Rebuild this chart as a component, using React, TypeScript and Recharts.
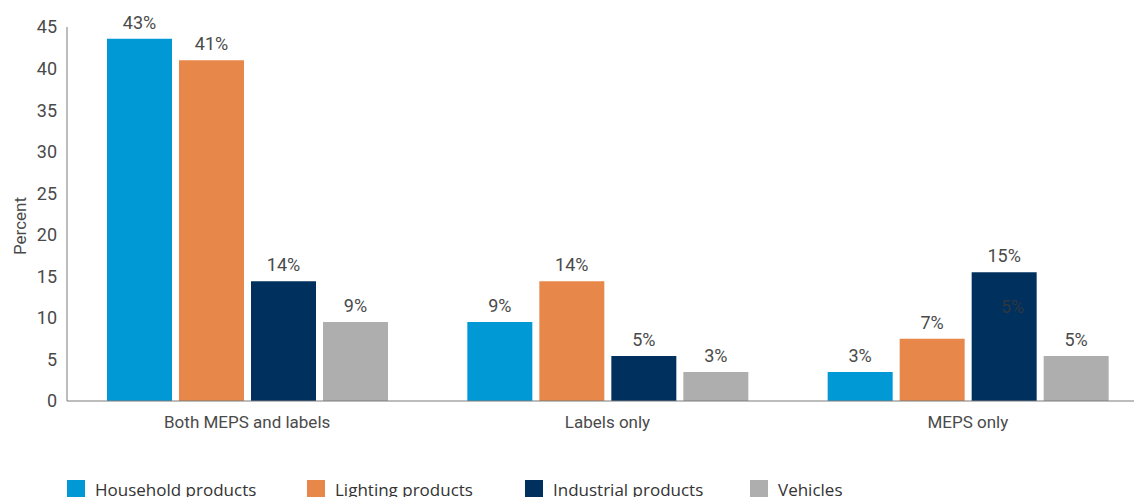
import React from 'react';
import { BarChart, Bar, XAxis, YAxis, LabelList } from 'recharts';

const categories = ['Both MEPS and labels', 'Labels only', 'MEPS only'];
const household = [43.6, 9.5, 3.5];
const lighting = [41, 14.4, 7.5];
const industrial = [14.4, 5.4, 15.5];
const vehicles = [9.5, 3.5, 5.4];
const householdLabels = ['43%', '9%', '3%'];
const lightingLabels = ['41%', '14%', '7%'];
const industrialLabels = ['14%', '5%', '15%'];
const vehiclesLabels = ['9%', '3%', '5%'];
const yTicks = [0, 5, 10, 15, 20, 25, 30, 35, 40, 45];

const seriesNames = ['Household products', 'Lighting products', 'Industrial products', 'Vehicles'];
const colors = ['#0099d6', '#e8874a', '#00305e', '#aeaeae'];
const legendX = [67, 307, 525, 750];

const data = categories.map((c, i) => ({
  name: c,
  household: household[i],
  lighting: lighting[i],
  industrial: industrial[i],
  vehicles: vehicles[i],
}));

const FONT = 'Roboto, sans-serif';
const TXT = '#4a4a4a';

const makeLabel = (labels: string[], stray?: { index: number; text: string; dx: number; dy: number }) => (props: any) => {
  const { x, y, width, index } = props;
  const cx = x + width / 2;
  return (
    <g>
      <text x={cx} y={y - 10} textAnchor="middle" fill={TXT} fontSize={18} fontFamily={FONT}>
        {labels[index]}
      </text>
      {stray && stray.index === index ? (
        <text x={cx + stray.dx} y={y + stray.dy} textAnchor="middle" fill="#2f3640" fontSize={18} fontFamily={FONT}>
          {stray.text}
        </text>
      ) : null}
    </g>
  );
};

export default function App() {
  const keys = ['household', 'lighting', 'industrial', 'vehicles'];
  const labelSets = [householdLabels, lightingLabels, industrialLabels, vehiclesLabels];
  return (
    <div style={{ position: 'absolute', left: 0, top: 0, width: 1134, height: 497, overflow: 'hidden', background: '#fff' }}>
      <BarChart
        width={1148}
        height={520}
        data={data}
        margin={{ top: 27, right: 0, left: 0, bottom: 0 }}
        barSize={65}
        barGap={7}
      >
        <XAxis
          dataKey="name"
          height={119}
          tickLine={false}
          axisLine={{ stroke: '#7a7a7a' }}
          tick={{ fill: TXT, fontSize: 17, fontFamily: FONT }}
          tickMargin={9}
        />
        <YAxis
          width={67}
          domain={[0, 45]}
          ticks={yTicks}
          interval={0}
          tickLine={false}
          axisLine={{ stroke: '#7a7a7a' }}
          tick={{ fill: TXT, fontSize: 18, fontFamily: FONT }}
          tickMargin={4}
          label={{ value: 'Percent', angle: -90, position: 'insideLeft', offset: 20, dy: 12, fill: TXT, fontSize: 17, fontFamily: FONT, style: { textAnchor: 'middle' } }}
        />
        {keys.map((k, i) => (
          <Bar key={k} dataKey={k} fill={colors[i]} isAnimationActive={false}>
            <LabelList
              dataKey={k}
              content={makeLabel(labelSets[i], i === 2 ? { index: 2, text: '5%', dx: 8.5, dy: 41 } : undefined)}
            />
          </Bar>
        ))}
      </BarChart>
      {seriesNames.map((n, i) => (
        <div key={n} style={{ position: 'absolute', left: legendX[i], top: 480, display: 'flex', alignItems: 'flex-start' }}>
          <div style={{ width: 18, height: 18, background: colors[i] }} />
          <span style={{ marginLeft: 10, fontFamily: '"Open Sans", sans-serif', fontSize: 17, color: '#333', lineHeight: '20px', marginTop: 0, whiteSpace: 'nowrap' }}>{n}</span>
        </div>
      ))}
    </div>
  );
}
